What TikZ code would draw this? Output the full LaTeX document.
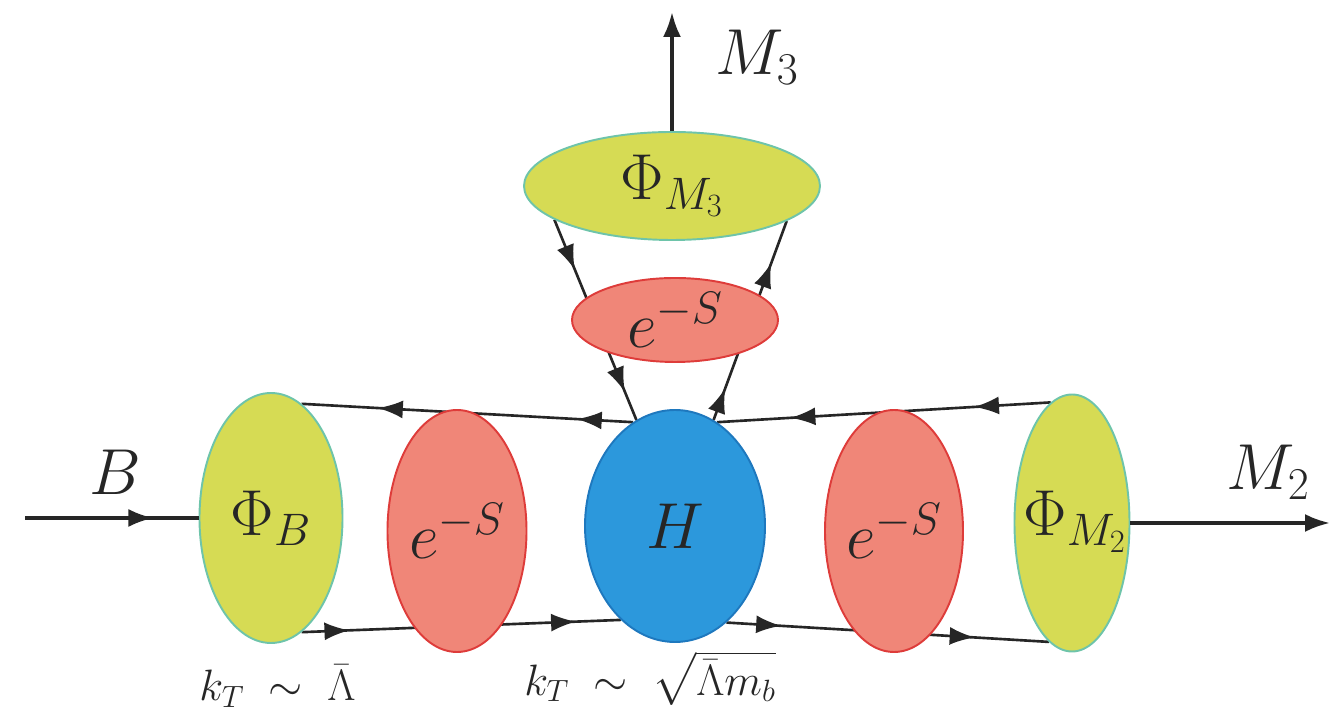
\RequirePackage{fix-cm}
\documentclass[tikz,border=0pt]{standalone}
\usepackage{amsmath,amssymb}
\usepackage{tikz}
\usetikzlibrary{arrows.meta,shapes.geometric,decorations.markings,backgrounds}

\definecolor{wfyellow}{RGB}{214,219,84}
\definecolor{wfedge}{RGB}{110,196,170}
\definecolor{sudfill}{RGB}{240,134,120}
\definecolor{sudedge}{RGB}{222,60,58}
\definecolor{hardfill}{RGB}{44,152,220}
\definecolor{hardedge}{RGB}{30,120,190}

\begin{document}
\begin{tikzpicture}[every node/.style={font=\fontsize{37}{42}\selectfont, text=black!85}, >={Latex[length=5mm,width=3.6mm]},
	wave/.style={ellipse, draw=wfedge, line width=1.1pt, fill=wfyellow, inner sep=0pt},
	sudakov/.style={ellipse, draw=sudedge, line width=1.1pt, fill=sudfill, inner sep=0pt},
	hard/.style={ellipse, draw=hardedge, line width=1.1pt, fill=hardfill, inner sep=0pt},
	midarrow/.style={postaction={decorate, decoration={markings, mark=at position #1 with {\arrow{>}}}}},
	quark/.style 2 args={line width=1.5pt, draw=black!85, midarrow=#1, midarrow=#2},
	meson/.style={line width=2pt, draw=black!85},
	ktlabel/.style={font=\fontsize{25}{30}\selectfont}]
	\useasboundingbox (0,0) rectangle (26.64,14.24);
	% blobs
	\node[wave, minimum width=2.86cm, minimum height=5cm] (PhiB) at (5.42,3.88) {$\Phi_B$};
	\node[sudakov, minimum width=2.78cm, minimum height=4.84cm] (SudL) at (9.14,3.62) {$e^{-S}$};
	\node[hard, minimum width=3.6cm, minimum height=4.64cm] (H) at (13.5,3.72) {$H$};
	\node[sudakov, minimum width=2.76cm, minimum height=4.84cm] (SudR) at (17.88,3.62) {$e^{-S}$};
	\node[wave, minimum width=2.3cm, minimum height=5.14cm] (PhiM2) at (21.44,3.78) {};
	\node (PhiM2txt) at (21.5,3.8) {$\Phi_{M_2}$};
	\node[wave, minimum width=5.92cm, minimum height=2.16cm] (PhiM3) at (13.44,10.52) {$\Phi_{M_3}$};
	\node[sudakov, minimum width=4.12cm, minimum height=1.68cm] (SudT) at (13.5,7.84) {$e^{-S}$};
	% quark lines behind the blobs
	\begin{pgfonlayer}{background}
		\draw[quark={0.23}{0.78}] (PhiM2.100) -- (H.68);
		\draw[quark={0.17}{0.77}] (H.112) -- (PhiB.75);
		\draw[quark={0.15}{0.86}] (PhiB.-75) -- (H.-120);
		\draw[quark={0.17}{0.77}] (H.-62) -- (PhiM2.-101);
		\draw[quark={0.25}{0.86}] (PhiM3.196) -- (H.110);
		\draw[quark={0.16}{0.79}] (H.70) -- (PhiM3.-17);
	\end{pgfonlayer}
	% external mesons
	\coordinate (Bin) at (0.5,3.88);
	\coordinate (M2out) at (26.6,3.78);
	\coordinate (M3out) at (13.44,14.0);
	\draw[meson, midarrow=0.74] (Bin) -- (PhiB.west);
	\draw[meson, ->] (PhiM2.east) -- (M2out);
	\draw[meson, ->] (PhiM3.north) -- (M3out);
	\node (labB) at (2.3,4.8) {$B$};
	\node (labM2) at (25.36,4.8) {$M_2$};
	\node (labM3) at (15.14,13.1) {$M_3$};
	\node[ktlabel] (ktB) at (5.55,0.52) {$k_T \;\sim\; \bar\Lambda$};
	\node[ktlabel] (ktH) at (13.0,0.68) {$k_T \;\sim\; \sqrt{\bar\Lambda m_b}$};
\end{tikzpicture}
\end{document}
